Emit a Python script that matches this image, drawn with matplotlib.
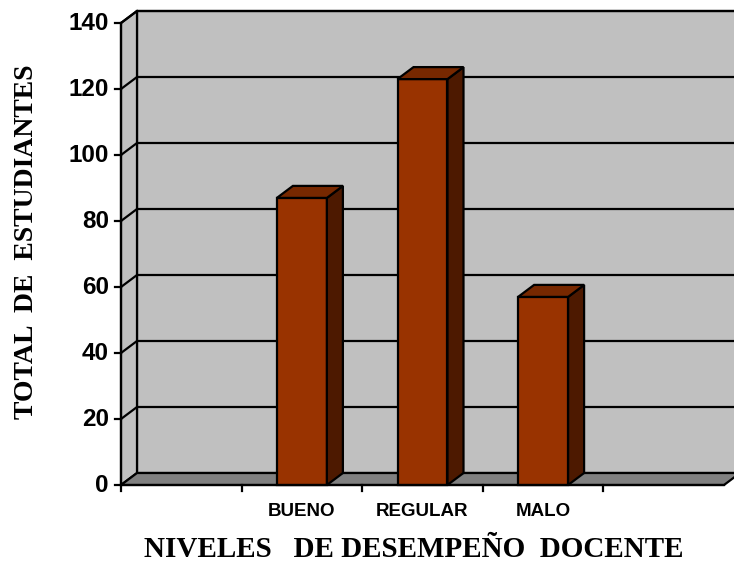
import matplotlib
matplotlib.use("Agg")
import matplotlib.pyplot as plt
from matplotlib.patches import Polygon

# Data
categories = ["", "BUENO", "REGULAR", "MALO", ""]
values = [None, 87, 123, 57, None]
y_ticks = [0, 20, 40, 60, 80, 100, 120, 140]

W, H = 734, 564
fig = plt.figure(figsize=(W / 100, H / 100), dpi=100)
fig.patch.set_facecolor("white")

# Front plane of the 3D box, in pixel fractions
x0, x1 = 121, 724
y0, y1 = 485, 23
ax = fig.add_axes([x0 / W, (H - y0) / H, (x1 - x0) / W, (y0 - y1) / H])
ncat = len(categories)
ymax = 140
ax.set_xlim(0, ncat)
ax.set_ylim(0, ymax)
ax.axis("off")

# depth offset (data units)
px_x = ncat / (x1 - x0)
px_y = ymax / (y0 - y1)
dx = 16 * px_x
dy = 12 * px_y

wall = "#C0C0C0"
floor = "#808080"
lw = 1.6

def poly(pts, fc, z, lw_=lw):
    p = Polygon(pts, closed=True, facecolor=fc, edgecolor="black",
                linewidth=lw_, clip_on=False, zorder=z, joinstyle="miter")
    ax.add_patch(p)

# back wall
poly([(dx, dy), (ncat + dx, dy), (ncat + dx, ymax + dy), (dx, ymax + dy)], wall, 1)
# side wall
poly([(0, 0), (dx, dy), (dx, ymax + dy), (0, ymax)], wall, 1)

# gridlines on back and side walls
for v in y_ticks[1:]:
    ax.plot([dx, ncat + dx], [v + dy, v + dy], color="black", lw=lw,
            clip_on=False, zorder=2, solid_capstyle="butt")
    ax.plot([0, dx], [v, v + dy], color="black", lw=lw, clip_on=False, zorder=2)

# floor
poly([(0, 0), (ncat, 0), (ncat + dx, dy), (dx, dy)], floor, 3)

# bars
front_c = "#993300"
top_c = "#772800"
side_c = "#4D1900"
bw = 50 * px_x
for i, v in enumerate(values):
    if v is None:
        continue
    c = i + 0.5
    l, r = c - bw / 2, c + bw / 2
    poly([(l, 0), (r, 0), (r, v), (l, v)], front_c, 5)
    poly([(r, 0), (r + dx, dy), (r + dx, v + dy), (r, v)], side_c, 5)
    poly([(l, v), (r, v), (r + dx, v + dy), (l + dx, v + dy)], top_c, 5)

# front axes
ax.plot([0, 0], [0, ymax], color="black", lw=lw, clip_on=False, zorder=6)
ax.plot([0, ncat], [0, 0], color="black", lw=lw, clip_on=False, zorder=6)
tick_x = 6 * px_x
tick_y = 6 * px_y
for v in y_ticks:
    ax.plot([-tick_x, 0], [v, v], color="black", lw=lw, clip_on=False, zorder=6)
    ax.text(-12 * px_x, v, str(v), ha="right", va="center",
            fontsize=17.5, fontweight="bold", family="Liberation Sans")
for k in range(ncat):
    ax.plot([k, k], [0, -tick_y], color="black", lw=lw, clip_on=False, zorder=6)

for i, name in enumerate(categories):
    if name:
        ax.text(i + 0.5, -27 * px_y, name, ha="center", va="center",
                fontsize=13.5, fontweight="bold", family="Liberation Sans")

# axis titles
fig.text(414 / W, 1 - 557 / H, "NIVELES   DE DESEMPEÑO  DOCENTE", ha="center",
         va="baseline", fontsize=21, fontweight="bold", family="Liberation Serif")
fig.text(27 / W, 1 - 242 / H, "TOTAL  DE  ESTUDIANTES", ha="center",
         va="center", rotation=90, fontsize=20, fontweight="bold",
         family="Liberation Serif")

fig.savefig("out.png", dpi=100)
